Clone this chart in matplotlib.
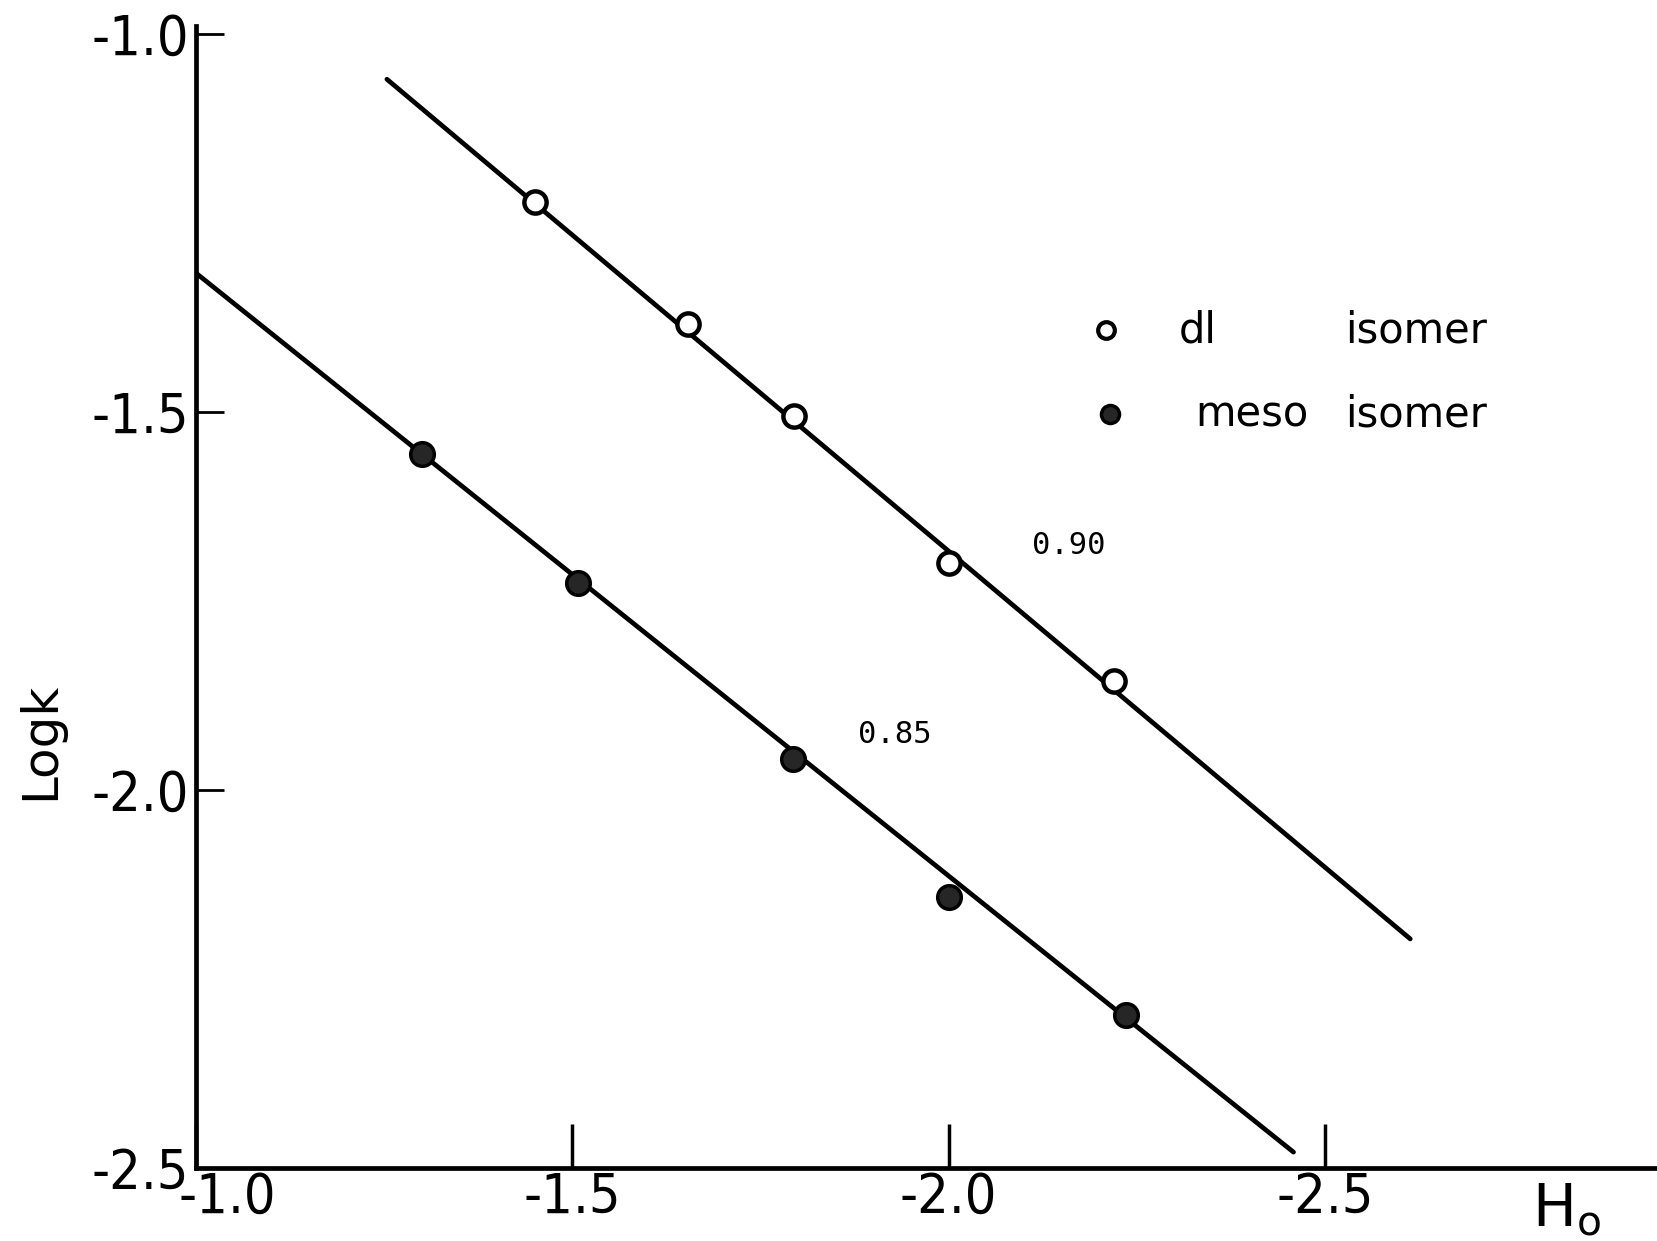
import matplotlib.pyplot as plt
import matplotlib.transforms as mtrans

# H0 and log k values
dl_h0 = [-1.45, -1.654, -1.794, -2.00, -2.219]
dl_logk = [-1.222, -1.384, -1.506, -1.700, -1.856]
meso_h0 = [-1.301, -1.508, -1.793, -2.00, -2.236]
meso_logk = [-1.556, -1.726, -1.959, -2.141, -2.297]

# drawn straight lines (end points)
dl_line_h0 = [-1.254, -2.613]
dl_line_logk = [-1.060, -2.197]
meso_line_h0 = [-1.0, -2.458]
meso_line_logk = [-1.316, -2.479]

xticks = [-1.0, -1.5, -2.0, -2.5]
yticks = [-1.0, -1.5, -2.0, -2.5]
tick_labels = ["-1.0", "-1.5", "-2.0", "-2.5"]
slope_labels = ["0.90", "0.85"]

fig = plt.figure(figsize=(16.58, 12.41), dpi=100)
ax = fig.add_axes([0.118, 0.0588, 0.882, 0.920])

ax.plot(dl_line_h0, dl_line_logk, color="black", lw=3.4, solid_capstyle="round")
ax.plot(meso_line_h0, meso_line_logk, color="black", lw=3.4, solid_capstyle="round")
ax.plot(dl_h0, dl_logk, "o", ms=16, mfc="white", mec="black", mew=3.2, zorder=3)
ax.plot(meso_h0, meso_logk, "o", ms=17, mfc="#262626", mec="black", mew=2.5, zorder=3)

ax.set_xlim(-1.0, -2.942)
ax.set_ylim(-2.5, -0.99)

for s in ["top", "right"]:
    ax.spines[s].set_visible(False)
ax.spines["left"].set_linewidth(3.4)
ax.spines["bottom"].set_linewidth(3.4)

ax.set_xticks(xticks)
ax.set_xticklabels(tick_labels, fontsize=40, fontstretch="condensed")
ax.set_yticks(yticks)
ax.set_yticklabels(tick_labels, fontsize=40, fontstretch="condensed")
ax.tick_params(axis="x", direction="in", length=32, width=2.5, pad=2)
ax.tick_params(axis="y", direction="in", length=20, width=2, pad=5)
# first x label is nudged right in the original
first = ax.get_xticklabels()[0]
first.set_transform(first.get_transform() + mtrans.ScaledTranslation(0.32, 0, fig.dpi_scale_trans))

ax.set_ylabel("Logk", fontsize=36)
ax.yaxis.set_label_coords(-0.09, 0.374)
ax.text(-2.82, -2.555, "H$_\\mathregular{o}$", fontsize=42,
        ha="center", va="center", clip_on=False)

# legend drawn by hand
ax.plot([-2.209], [-1.392], "o", ms=12, mfc="white", mec="black", mew=3)
ax.plot([-2.214], [-1.503], "o", ms=13, mfc="#262626", mec="black", mew=2.5)
ax.text(-2.306, -1.392, "dl", fontsize=30, va="center", ha="left")
ax.text(-2.526, -1.392, "isomer", fontsize=30, va="center", ha="left")
ax.text(-2.327, -1.503, "meso", fontsize=30, va="center", ha="left")
ax.text(-2.526, -1.503, "isomer", fontsize=30, va="center", ha="left")

ax.text(-2.159, -1.677, slope_labels[0], fontsize=22, family="DejaVu Sans Mono",
        ha="center", va="center", fontweight="light")
ax.text(-1.929, -1.926, slope_labels[1], fontsize=22, family="DejaVu Sans Mono",
        ha="center", va="center", fontweight="light")

fig.savefig("out.png", dpi=100)
